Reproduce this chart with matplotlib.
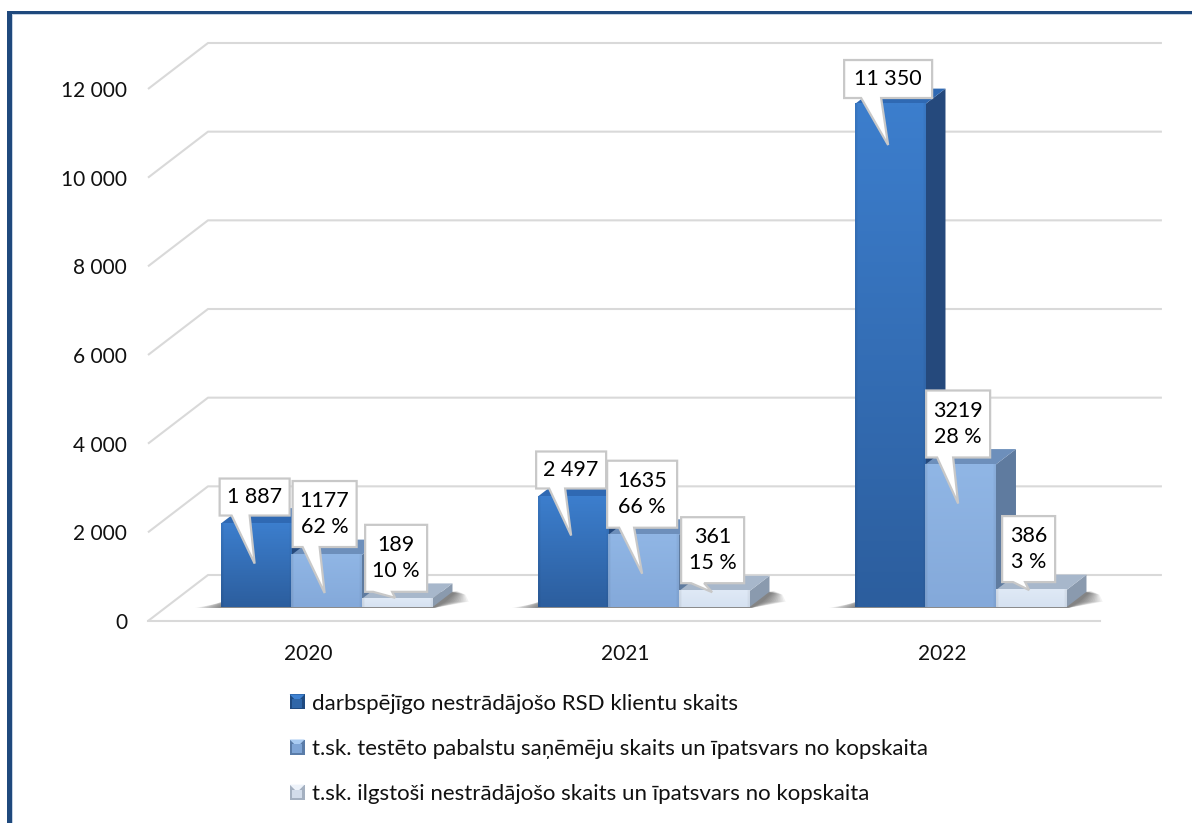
import numpy as np
import matplotlib
matplotlib.use("Agg")
import matplotlib.pyplot as plt
from matplotlib.patches import Polygon, Rectangle
from matplotlib.legend_handler import HandlerBase
from matplotlib.transforms import IdentityTransform

plt.rcParams['font.family'] = ['Lato', 'DejaVu Sans']

# data
years = ["2020", "2021", "2022"]
clients = [1887, 2497, 11350]
tested = [1177, 1635, 3219]
longterm = [189, 361, 386]
tested_pct = [62, 66, 28]
longterm_pct = [10, 15, 3]
y_ticks = [0, 2000, 4000, 6000, 8000, 10000, 12000]
y_labels = ["0", "2 000", "4 000", "6 000", "8 000", "10 000", "12 000"]
series_names = ["darbspējīgo nestrādājošo RSD klientu skaits",
                "t.sk. testēto pabalstu saņēmēju skaits un īpatsvars no kopskaita",
                "t.sk. ilgstoši nestrādājošo skaits un īpatsvars no kopskaita"]
labels_a = ["1 887", "2 497", "11 350"]
labels_b = [f"{v}\n{p} %" for v, p in zip(tested, tested_pct)]
labels_c = [f"{v}\n{p} %" for v, p in zip(longterm, longterm_pct)]

# callout shapes in pixels, relative to the middle of the bar top:
# box left, box right, box top, box bottom, tail left, tail right, tip x, tip y
shape_a = [(-36.5, 33.5, -45, -8, -24.5, -6.5, -1.5, 40),
           (-37, 33, -45, -8, -24, -8, -2, 39),
           (-46, 42, -44, -6, -29, -9, -2, 41)]
shape_b = [(-34, 30, -74, -8, -24, -7, -2, 38),
           (-36.5, 33.5, -74, -7, -24.5, -9.5, -1.5, 39),
           (-34.5, 29.5, -74, -7, -23.5, -7.5, -2.5, 39)]
shape_c = [(-32, 30, -74, -7, -24, -5, -2, -1),
           (-33, 30, -74, -8, -23, -10, -2, 1),
           (-29, 24, -74, -8, -18, -6, -2, 0)]

# bar colours: front top, front bottom, side, top face
colors = [("#3c7ecd", "#2c5e9e", "#25497c", "#2f69b3"),
          ("#90b6e5", "#84a9da", "#5f7b9f", "#6d8fbb"),
          ("#dfe9f6", "#d6e2f1", "#8a9aae", "#a7b7cb")]

W, H = 1192, 823
fig = plt.figure(figsize=(W / 100, H / 100), dpi=100, facecolor="white")
# axes box is the front plane of the 3D floor
ax = fig.add_axes([148 / W, 1 - 621 / H, (1100 - 148) / W, (621 - 89) / H])
x_lim = (-160 / 317, 792 / 317)
y_lim = (0, 12000)

# oblique depth of the chart box
DX = 60 / 317
DY = 46 / (532 / 12000)
BAR_D0, BAR_D1 = 0.30, 0.635
BAR_W = 70.5 / 317
GROUP_SHIFT = 0.002


def project(x, v, d):
    return (x + d * DX, v + d * DY)


def hex2rgb(c):
    return np.array(matplotlib.colors.to_rgb(c))


# walls / grid
grid_c = "#d9d9d9"
for v in y_ticks:
    pts = [project(x_lim[0], v, 0), project(x_lim[0], v, 1), project(x_lim[1] + 0.006, v, 1)]
    ax.plot(*zip(*pts), color=grid_c, lw=1.5, clip_on=False, zorder=1, solid_capstyle="butt")
ax.plot(x_lim, [0, 0], color=grid_c, lw=1.5, clip_on=False, zorder=1)


def draw_bar(x0, v, cols, z):
    x1 = x0 + BAR_W
    # side and top faces
    side = [project(x1, 0, BAR_D0), project(x1, 0, BAR_D1), project(x1, v, BAR_D1), project(x1, v, BAR_D0)]
    top = [project(x0, v, BAR_D0), project(x1, v, BAR_D0), project(x1, v, BAR_D1), project(x0, v, BAR_D1)]
    ax.add_patch(Polygon(side, fc=cols[2], ec="none", zorder=z, clip_on=False))
    ax.add_patch(Polygon(top, fc=cols[3], ec="none", zorder=z, clip_on=False))
    # front face with gradient
    t = np.linspace(0, 1, 64)[:, None]
    img = hex2rgb(cols[0]) * (1 - t[..., None]) + hex2rgb(cols[1]) * t[..., None]
    img = np.repeat(img, 32, axis=1)
    edge = np.ones(32)
    edge[:1] = 0.93
    edge[-1:] = 0.95
    img = np.clip(img * edge[None, :, None], 0, 1)
    fx0, fy0 = project(x0, 0, BAR_D0)
    fx1, fy1 = project(x1, v, BAR_D0)
    ax.imshow(img, extent=(fx0, fx1, fy0, fy1), origin="upper", aspect="auto",
              zorder=z + 0.1, clip_on=False, interpolation="bilinear")


def draw_shadow(x0, x1, z):
    # soft floor shadow, stacked from wide to narrow
    for m in np.linspace(0.08, 0.0, 12):
        pts = [project(x0 - m, 0, BAR_D0 - 0.015), project(x1 + 0.01, 0, BAR_D0 - 0.015),
               project(x1 + 0.02 + m * 0.9, 0, BAR_D0 + 0.12), project(x1 + 0.012 + m * 0.5, 0, BAR_D1 + 0.02 - m),
               project(x1 - 0.01, 0, BAR_D1), project(x0 - m * 0.1, 0, BAR_D1 - m * 3)]
        ax.add_patch(Polygon(pts, fc="black", ec="none", alpha=0.05, zorder=z, clip_on=False))


series = [clients, tested, longterm]
for i in range(len(years)):
    start = i + GROUP_SHIFT - 1.5 * BAR_W
    draw_shadow(start, start + 3 * BAR_W, 2)
    for s in range(3):
        draw_bar(start + s * BAR_W, series[s][i], colors[s], 3 + s)

ax.set_xlim(x_lim)
ax.set_ylim(y_lim)
ax.set_xticks(range(len(years)))
ax.set_xticklabels(years, fontsize=15, color="#111111")
ax.set_yticks(y_ticks)
ax.set_yticklabels(y_labels, fontsize=15, color="#111111")
ax.tick_params(axis="y", length=0, pad=15)
ax.tick_params(axis="x", length=0, pad=16.5)
for sp in ax.spines.values():
    sp.set_visible(False)
ax.patch.set_visible(False)


def callout(i, s, text, shp):
    start = i + GROUP_SHIFT - 1.5 * BAR_W
    cx = start + (s + 0.5) * BAR_W
    px, py = ax.transData.transform(project(cx, series[s][i], BAR_D0))
    l, r, t, b, tl, tr, tipx, tipy = shp
    pts = [(l, t), (r, t), (r, b), (tr, b), (tipx, tipy), (tl, b), (l, b)]
    pts = [(px + a, py - c) for a, c in pts]
    ax.add_patch(Polygon(pts, fc="white", ec="#c8c8c8", lw=1.6, zorder=10 + s, clip_on=False,
                         transform=IdentityTransform(), joinstyle="miter"))
    ax.text(px + (l + r) / 2, py - (t + b) / 2, text, transform=IdentityTransform(),
            ha="center", va="center", fontsize=15.5, color="black", zorder=11 + s,
            linespacing=1.38, clip_on=False)


for i in range(len(years)):
    callout(i, 0, labels_a[i], shape_a[i])
    callout(i, 1, labels_b[i], shape_b[i])
    callout(i, 2, labels_c[i], shape_c[i])


# bevelled legend squares
class BevelHandler(HandlerBase):
    def create_artists(self, legend, orig, xd, yd, w, h, fs, trans):
        c_main, c_light, c_dark = orig.bevel
        s = 15 / 100 * 72
        x, y = -xd, -yd + (h - s) / 2
        parts = [Rectangle((x, y), s, s, fc=c_dark),
                 Polygon([(x, y + s), (x + s, y + s), (x + s * 0.5, y + s * 0.5)], fc=c_light),
                 Rectangle((x + s * 0.18, y + s * 0.12), s * 0.64, s * 0.55, fc=c_main)]
        for p in parts:
            p.set_edgecolor("none")
            p.set_transform(trans)
        return parts


handles = []
bevels = [("#2f66a8", "#3f82d2", "#1f4a80"), ("#7fa5d6", "#a9cbf2", "#5a7ca8"), ("#d2dcea", "#eef3fa", "#a4b0c0")]
for b in bevels:
    r = Rectangle((0, 0), 1, 1)
    r.bevel = b
    handles.append(r)
fig.legend(handles, series_names, handler_map={Rectangle: BevelHandler()},
           loc="upper left", bbox_to_anchor=(283 / W, 1 - 687 / H), frameon=False,
           fontsize=16, labelspacing=1.13, handlelength=0.72, handletextpad=0.29,
           borderpad=0.3, borderaxespad=0, labelcolor="#111111")

# blue frame on the left and top
fig.add_artist(Rectangle((7 / W, 0), 5 / W, 1 - 11 / H, transform=fig.transFigure, fc="#1f497d", ec="none"))
fig.add_artist(Rectangle((7 / W, 1 - 14 / H), 1 - 7 / W, 3 / H, transform=fig.transFigure, fc="#1f497d", ec="none"))
fig.add_artist(Rectangle((12 / W, 0), 1 / W, 1 - 14 / H, transform=fig.transFigure, fc="#c5d3e3", ec="none"))
fig.add_artist(Rectangle((12 / W, 1 - 15 / H), 1 - 12 / W, 1 / H, transform=fig.transFigure, fc="#c5d3e3", ec="none"))

fig.savefig("out.png", dpi=100)
